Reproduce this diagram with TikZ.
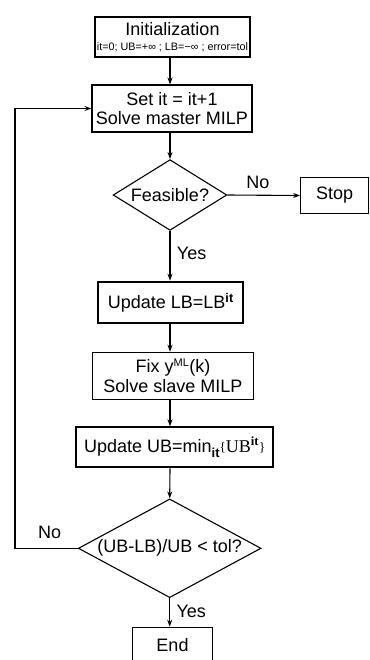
\documentclass[tikz,border=0pt]{standalone}
\usepackage{fontspec}
\setmainfont{Liberation Sans}
\newfontfamily\tms{Liberation Serif}
\usetikzlibrary{shapes.geometric,arrows.meta}
\begin{document}
\begin{tikzpicture}[x=1pt,y=-1pt,
  every node/.style={font=\fontsize{18}{19.5}\selectfont},
  box/.style={draw,line width=1.1pt,rectangle,inner sep=0pt},
  thickbox/.style={box,line width=2pt},
  dia/.style={draw,line width=1.1pt,diamond,inner sep=0pt},
  conn/.style={line width=1.1pt,-{Stealth[length=7pt,width=5pt]}},
  lbl/.style={font=\fontsize{18}{19.5}\selectfont}]
\useasboundingbox (0,0) rectangle (369,660);
\clip (0,0) rectangle (369,660);
\coordinate (spine) at (170,0);
\node[box,minimum width=155pt,minimum height=40pt,align=center] (init) at (172.5,37)
  {Initialization\\[-4pt]{\fontsize{10.8}{12}\selectfont it=0; UB=+∞ ; LB=−∞ ; error=tol}};
\node[box,minimum width=160pt,minimum height=47pt,align=center] (set) at (172,108.5)
  {Set it = it+1\\Solve master MILP};
\node[dia,minimum width=113.7pt,minimum height=70.7pt,aspect=1.6] (feas) at (170,195) {Feasible?};
\node[box,minimum width=68pt,minimum height=35.6pt] (stop) at (334.7,195.5) {Stop};
\node[thickbox,minimum width=145pt,minimum height=41.6pt] (lb) at (170.8,302.5)
  {Update LB=LB\textsuperscript{\bfseries it}};
\node[box,minimum width=160.6pt,minimum height=47pt,align=center] (fix) at (173,375.8)
  {Fix y\textsuperscript{\fontsize{11}{11}\selectfont ML}(k)\hspace{27pt}\\Solve slave MILP};
\node[thickbox,minimum width=197.3pt,minimum height=40pt] (ub) at (174.7,447.3)
  {Update UB=min\raisebox{-5pt}{\fontsize{13}{13}\selectfont\bfseries it}{\tms\fontsize{13}{13}\selectfont\raisebox{1pt}{\{}}{\tms UB\textsuperscript{\bfseries it}}{\tms\fontsize{13}{13}\selectfont\raisebox{1pt}{\}}}};
\node[dia,minimum width=182.7pt,minimum height=98.7pt,aspect=1.85] (tol) at (169.7,548.3) {(UB-LB)/UB < tol?};
\node[box,minimum width=79.6pt,minimum height=36pt] (end) at (172.5,645.3) {End};
\coordinate (loopx) at (15,0);
\draw[conn] (init.south -| spine) -- (set.north -| spine);
\draw[conn] (set.south -| spine) -- (feas.north);
\draw[conn] (feas.east) -- node[lbl,above,pos=0.42,yshift=3pt] {No} (stop.west);
\draw[conn] (feas.south) -- node[lbl,right,pos=0.45,xshift=3pt] {Yes} (lb.north -| spine);
\draw[conn] (lb.south -| spine) -- (fix.north -| spine);
\draw[conn] (fix.south -| spine) -- (ub.north -| spine);
\draw[conn] (ub.south -| spine) -- (tol.north);
\draw[conn] (tol.south) -- node[lbl,right,pos=0.45,xshift=3pt] {Yes} (end.north -| tol.south);
\draw[conn] (tol.west) -- node[lbl,above,pos=0.45,yshift=6pt] {No} (tol.west -| loopx) |- (set.west);
\end{tikzpicture}
\end{document}
